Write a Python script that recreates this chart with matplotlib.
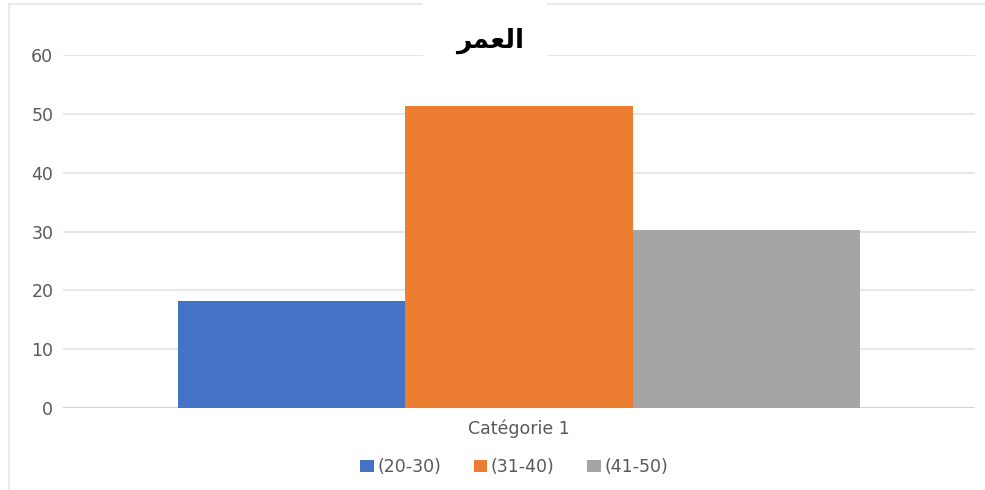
import numpy as np
import matplotlib.pyplot as plt
from matplotlib.lines import Line2D
from matplotlib.patches import Rectangle

# data
category = "Catégorie 1"
groups = ["(20-30)", "(31-40)", "(41-50)"]
values = [18.2, 51.4, 30.2]
colors = ["#4472C4", "#ED7D31", "#A5A5A5"]
yticks = [0, 10, 20, 30, 40, 50, 60]

# "العمر" written in Arabic presentation forms, visual order,
# because matplotlib does no shaping of Arabic text
title = "\uFEAE\uFEE4\uFECC\uFEDF\uFE8D"

plt.rcParams['font.family'] = ['DejaVu Sans']

fig = plt.figure(figsize=(9.85, 4.9), dpi=100)
ax = fig.add_axes([0.064, 0.1673, 0.9258, 0.7205])

# faint chart frame: only left and top edges are inside the picture
fx = 8.5 / 985
fy = 1 - 4.5 / 490
fig.lines.append(Line2D([fx, fx], [0, fy], transform=fig.transFigure,
                        color="#e6e6e6", linewidth=1.2))
fig.lines.append(Line2D([fx, 1], [fy, fy], transform=fig.transFigure,
                        color="#e6e6e6", linewidth=1.2))

x = np.arange(len(groups)) - 1
for i in range(len(groups)):
    ax.bar(x[i], values[i], width=1.0, color=colors[i], label=groups[i],
           zorder=3)

ax.set_xlim(-2.005, 2.005)
ax.set_ylim(0, 60)
ax.set_yticks(yticks)
ax.set_xticks([0])
ax.set_xticklabels([category])
ax.yaxis.grid(True, color="#e3e3e3", linewidth=1.2, zorder=0)
ax.axhline(0, color="#d0d0d0", linewidth=1.2, zorder=2)
for s in ax.spines.values():
    s.set_visible(False)
ax.tick_params(axis="both", length=0, colors="#595959", labelsize=12.5)
ax.tick_params(axis="y", pad=7)
ax.tick_params(axis="x", pad=8)

fig.text(490 / 985, 1 - 41 / 490, title, ha="center", va="center",
         fontsize=19, fontweight="bold", color="black", zorder=10)
# white box behind title that cuts the gridline and frame
fig.patches.append(Rectangle((423 / 985, 1 - 70 / 490), 124 / 985, 70 / 490,
                             transform=fig.transFigure, facecolor="white",
                             edgecolor="none", zorder=5))

leg = fig.legend(loc="center", bbox_to_anchor=(514 / 985, 1 - 467 / 490),
                 ncol=3, frameon=False, fontsize=12.5, handlelength=0.8,
                 handleheight=0.7, handletextpad=0.2, columnspacing=1.85)
for t in leg.get_texts():
    t.set_color("#595959")

fig.savefig("out.png", dpi=100)
